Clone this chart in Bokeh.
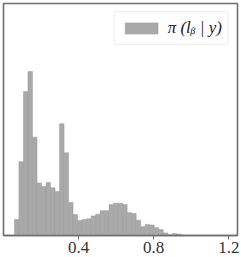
import numpy as np
from bokeh.plotting import figure
from bokeh.models import Range1d, FixedTicker, Legend, LegendItem
from bokeh.embed import file_html
from bokeh.resources import INLINE

# histogram of posterior samples of l_beta (density)
bin_start = 0.059
bin_width = 0.024
density = [0.49, 2.26, 4.41, 5.02, 3.01, 1.61, 1.50, 1.62, 1.46, 1.35,
           3.42, 2.53, 1.01, 0.64, 0.46, 0.49, 0.51, 0.60, 0.65, 0.76,
           0.76, 0.95, 0.99, 0.99, 0.95, 0.70, 0.67, 0.47, 0.27, 0.34,
           0.32, 0.24, 0.18, 0.08, 0.02, 0.06, 0.04, 0.01]
x_ticks = [0.4, 0.8, 1.2]
legend_label = "π (lᵦ | y)"

edges = np.round(bin_start + bin_width * np.arange(len(density) + 1), 4)
left = edges[:-1]
right = edges[1:]

p = figure(frame_width=234, frame_height=232, output_backend="svg",
           toolbar_location=None,
           x_range=Range1d(0.0008, 1.2461), y_range=Range1d(0, 7.10),
           min_border_left=3, min_border_top=3, min_border_right=2,
           min_border_bottom=0)

r = p.quad(left=left, right=right, bottom=0, top=density,
           fill_color="#a9a9a9", line_color="#9b9b9b", line_width=0.5)

p.xgrid.visible = False
p.ygrid.visible = False
p.yaxis.visible = False
p.outline_line_color = "#6e6e6e"
p.outline_line_width = 1.6
p.background_fill_color = "white"
p.border_fill_color = "white"

ax = p.xaxis[0]
ax.ticker = FixedTicker(ticks=x_ticks)
ax.minor_tick_line_color = None
ax.major_tick_in = 0
ax.major_tick_out = 4
ax.major_tick_line_color = "#6e6e6e"
ax.axis_line_color = "#6e6e6e"
ax.axis_line_width = 1.6
ax.major_label_text_font = "Liberation Serif"
ax.major_label_text_font_size = "17px"
ax.major_label_text_color = "#333333"
ax.major_label_standoff = 2

legend = Legend(items=[LegendItem(label=legend_label, renderers=[r])],
                location="top_right", margin=8, padding=6,
                glyph_width=41, glyph_height=14, label_height=18,
                label_standoff=6, spacing=0,
                label_text_font="Liberation Serif",
                label_text_font_style="italic",
                label_text_font_size="17px",
                label_text_color="#222222",
                border_line_color="#dddddd", border_line_width=1,
                border_radius=4,
                background_fill_color="white", background_fill_alpha=0.85)
p.add_layout(legend)

open("out.html", "w").write(file_html(p, INLINE))
